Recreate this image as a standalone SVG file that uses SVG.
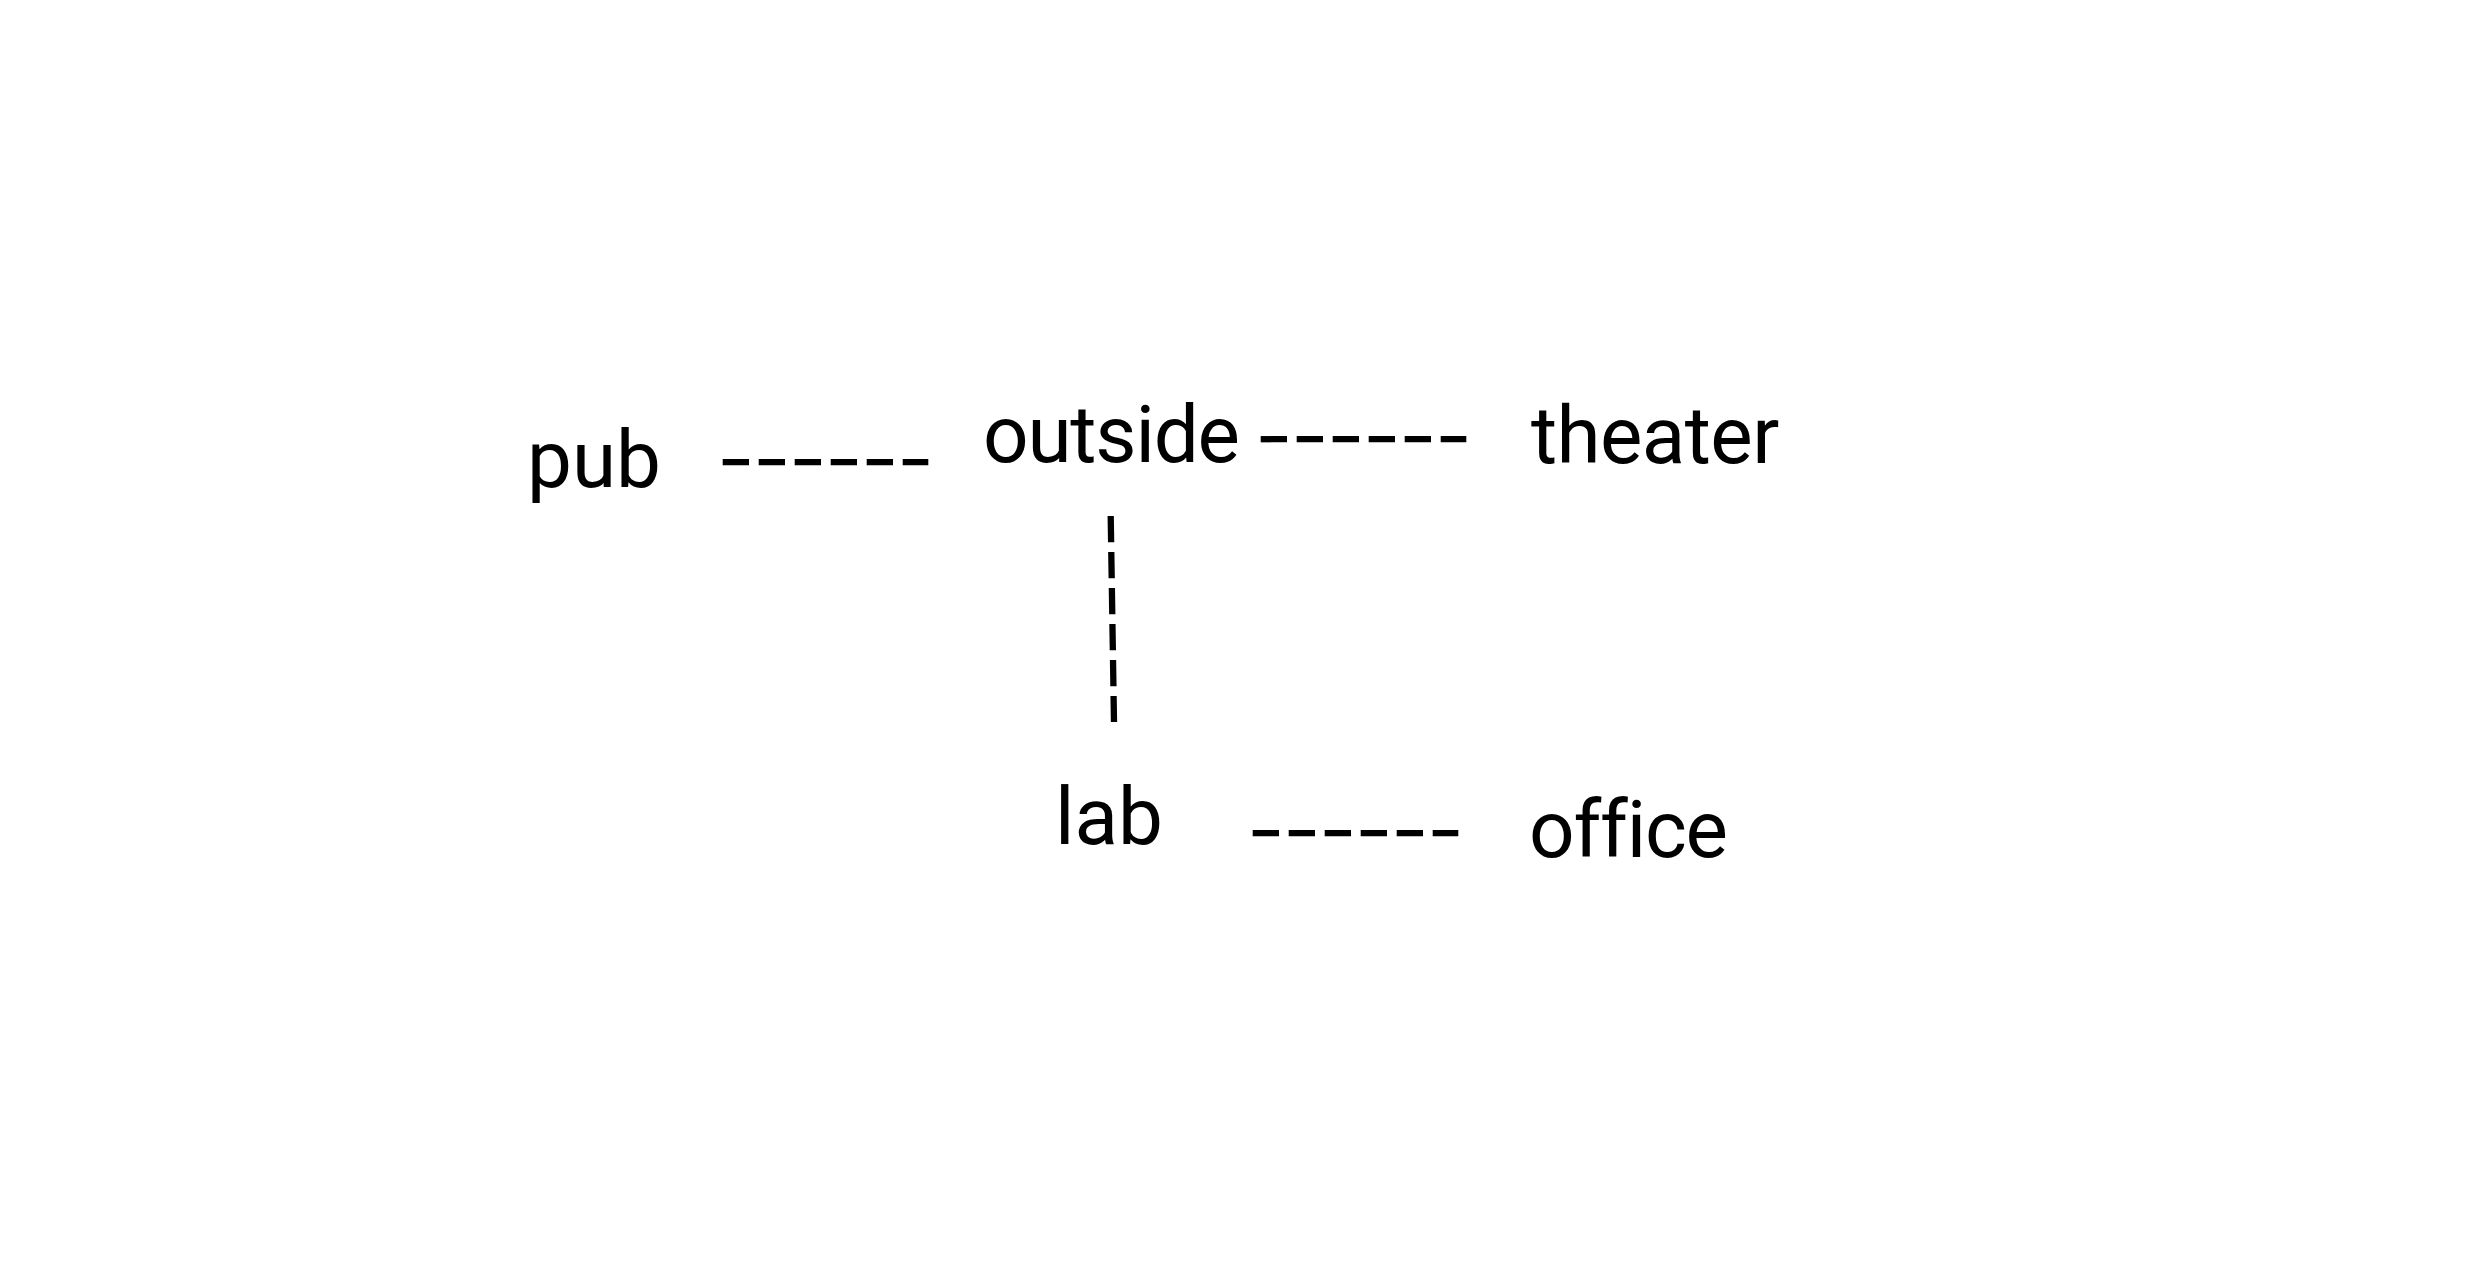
<svg xmlns="http://www.w3.org/2000/svg" width="2480" height="1276" viewBox="0 0 2480 1276">
<style>
.lbl{font-family:Roboto,"Liberation Sans",sans-serif;font-size:80px;fill:#000;font-variant-ligatures:none;font-feature-settings:"liga" 0}
.edge{stroke:#000;stroke-width:6.3;stroke-dasharray:26.3 9.7;fill:none;stroke-linecap:butt}
</style>
<rect width="2480" height="1276" fill="#fff"/>
<g id="connectors">
<path class="edge" d="M722.7 462.2H928.3"/>
<path class="edge" d="M1260.7 439.2H1466.3"/>
<path class="edge" d="M1252.7 833.2H1458.3"/>
<path class="edge" d="M1110.7 516L1114 722"/>
</g>
<g id="pub"><text class="lbl" x="527" y="487">pub</text></g>
<g id="outside"><text class="lbl" x="983" y="462" letter-spacing="-1.2">outside</text></g>
<g id="theater"><text class="lbl" x="1531" y="463" letter-spacing="-0.6">theater</text></g>
<g id="lab"><text class="lbl" x="1055" y="844">lab</text></g>
<g id="office"><text class="lbl" x="1529" y="857" letter-spacing="-1.2">office</text></g>
</svg>
